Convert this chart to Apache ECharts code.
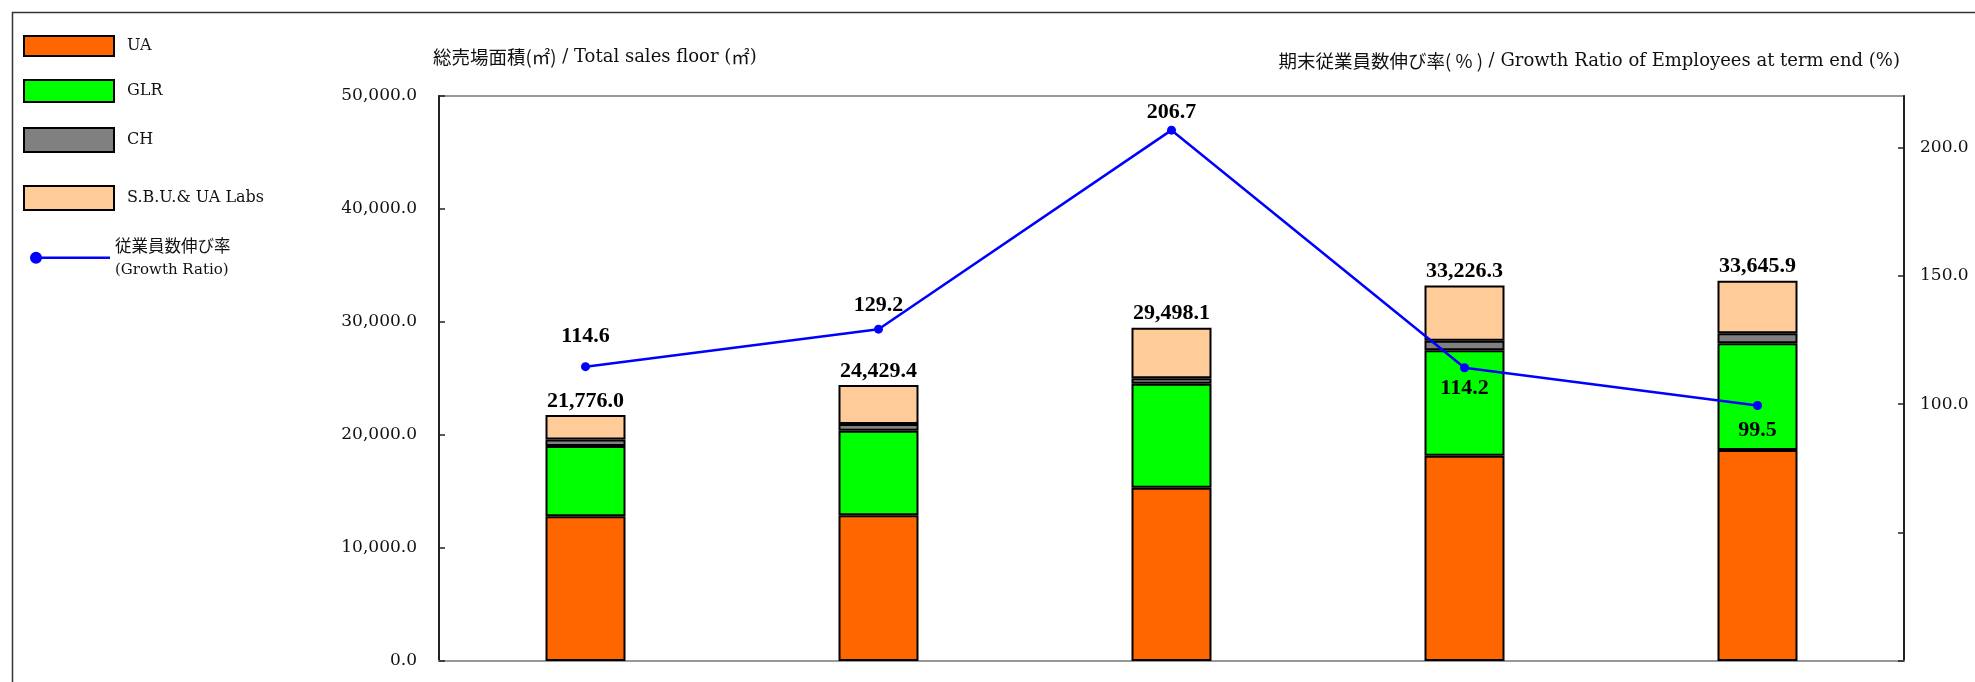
<!DOCTYPE html>
<html>
<head>
<meta charset="utf-8">
<script src="https://cdn.jsdelivr.net/npm/echarts@6/dist/echarts.min.js"></script>
<style>
html,body{margin:0;padding:0;background:#fff;}
#chart{width:1975px;height:682px;}
</style>
</head>
<body>
<div id="chart"></div>
<script>
// ---- data ----
const categories = ['1', '2', '3', '4', '5'];
const uaValues = [12800, 12900, 15340, 18170, 18670];
const glrValues = [6220, 7480, 9200, 9330, 9445];
const chValues = [580, 593, 478, 845, 885];
const sbuValues = [2176.0, 3456.4, 4480.1, 4881.3, 4645.9];
const totalValues = [21776.0, 24429.4, 29498.1, 33226.3, 33645.9];
const growthValues = [114.6, 129.2, 206.7, 114.2, 99.5];
const leftTicks = [0, 10000, 20000, 30000, 40000, 50000];
const rightTickValues = [0, 50, 100, 150, 200];
const rightLabelValues = [100, 150, 200];

const seriesNames = ['UA', 'GLR', 'CH', 'S.B.U.& UA Labs'];
const lineName = '従業員数伸び率';
const lineNameEn = '(Growth Ratio)';
const leftTitleJp = '総売場面積(㎡)';
const leftTitleEn = ' / Total sales floor (';
const leftTitleUnit = '㎡';
const leftTitleEnEnd = ')';
const rightTitleJp = '期末従業員数伸び率( % )';
const rightTitleEn = ' / Growth Ratio of Employees at term end (%)';

// ---- styling / layout (kept separate from data) ----
const barColors = ['#FF6600', '#00FF00', '#808080', '#FFCC99'];
const lineLabelPos = ['top', 'top', 'top', 'bottom', 'bottom'];
const lineLabelDist = [15, 8, 2, 5, 9];
const serif = 'DejaVu Serif';
const boldSerif = 'Liberation Serif';
const jp = 'Noto Sans CJK JP';

const fmt1 = v => Number(v).toLocaleString('en-US', {minimumFractionDigits: 1, maximumFractionDigits: 1});

const chart = echarts.init(document.getElementById('chart'), null, {renderer: 'canvas'});

const barSeries = [uaValues, glrValues, chValues, sbuValues].map((vals, i) => ({
  name: seriesNames[i],
  type: 'bar',
  stack: 'total',
  barWidth: 80,
  data: vals,
  itemStyle: {color: barColors[i], borderColor: '#000', borderWidth: 2},
  label: i === 3 ? {
    show: true,
    position: 'top',
    distance: 3,
    formatter: p => fmt1(totalValues[p.dataIndex]),
    fontFamily: boldSerif,
    fontWeight: 'bold',
    fontSize: 22,
    color: '#000'
  } : {show: false},
  emphasis: {disabled: true},
  z: 2
}));

const lineSeries = {
  name: lineName,
  type: 'line',
  yAxisIndex: 1,
  data: growthValues.map((v, i) => ({
    value: v,
    label: {position: lineLabelPos[i], distance: lineLabelDist[i]}
  })),
  symbol: 'circle',
  symbolSize: 9,
  itemStyle: {color: '#0000FF'},
  lineStyle: {color: '#0000FF', width: 2.5},
  label: {
    show: true,
    formatter: p => fmt1(p.value),
    fontFamily: boldSerif,
    fontWeight: 'bold',
    fontSize: 22,
    color: '#000'
  },
  emphasis: {disabled: true},
  z: 5
};

const legendCommon = {
  padding: 0,
  icon: 'rect',
  selectedMode: false,
  left: 23,
  textStyle: {fontFamily: serif, fontSize: 16, color: '#111', padding: [0, 0, 0, 8]}
};

const option = {
  backgroundColor: '#fff',
  animation: false,
  graphic: [{
    type: 'rect',
    left: 10, top: 10,
    shape: {x: 0, y: 0, width: 2000, height: 720},
    style: {fill: 'none', stroke: '#333', lineWidth: 1.5},
    silent: true
  }],
  legend: [
    Object.assign({}, legendCommon, {data: [seriesNames[0]], top: 35, itemWidth: 90, itemHeight: 20}),
    Object.assign({}, legendCommon, {data: [seriesNames[1]], top: 79, itemWidth: 90, itemHeight: 22}),
    Object.assign({}, legendCommon, {data: [seriesNames[2]], top: 127, itemWidth: 90, itemHeight: 24}),
    Object.assign({}, legendCommon, {data: [seriesNames[3]], top: 185, itemWidth: 90, itemHeight: 24}),
    {
      padding: 0,
      selectedMode: false,
      left: 30,
      top: 237,
      data: [lineName],
      itemWidth: 80,
      itemHeight: 12,
      icon: 'path://M0,6 A6,6 0 1,1 12,6 A6,6 0 1,1 0,6 Z M6,4.75 L80,4.75 L80,7.25 L6,7.25 Z',
      itemStyle: {borderWidth: 0},
      formatter: name => '{a|' + name + '}\n{b|' + lineNameEn + '}',
      textStyle: {
        color: '#111',
        rich: {
          a: {fontFamily: jp, fontSize: 16.5, lineHeight: 25, color: '#111'},
          b: {fontFamily: serif, fontSize: 15, lineHeight: 25, color: '#111'}
        }
      }
    }
  ],
  grid: {
    left: 439, right: 71, top: 96, bottom: 21,
    show: true, borderColor: '#999', borderWidth: 2, backgroundColor: 'transparent'
  },
  xAxis: {
    type: 'category',
    data: categories,
    axisLine: {lineStyle: {color: '#999', width: 2}},
    axisTick: {show: false},
    axisLabel: {show: false},
    splitLine: {show: false}
  },
  yAxis: [{
    type: 'value',
    min: leftTicks[0],
    max: leftTicks[leftTicks.length - 1],
    interval: 10000,
    name: '{jp|' + leftTitleJp + '}{en|' + leftTitleEn + '}{u|' + leftTitleUnit + '}{en|' + leftTitleEnEnd + '}',
    nameLocation: 'end',
    nameGap: 39,
    nameTextStyle: {
      align: 'left', verticalAlign: 'middle', padding: [0, 0, 0, -6],
      rich: {
        jp: {fontFamily: jp, fontSize: 18.5, color: '#111'},
        u: {fontFamily: jp, fontSize: 18.5, color: '#111'},
        en: {fontFamily: serif, fontSize: 18, color: '#111'}
      }
    },
    axisLine: {show: true, lineStyle: {color: '#222', width: 2}},
    axisTick: {show: true, inside: true, length: 6, lineStyle: {color: '#222', width: 1.5}},
    axisLabel: {
      formatter: v => fmt1(v), margin: 22,
      fontFamily: serif, fontSize: 17, color: '#111'
    },
    splitLine: {show: false}
  }, {
    type: 'value',
    min: 0,
    max: 220,
    interval: 50,
    position: 'right',
    name: '{jp|' + rightTitleJp + '}{en|' + rightTitleEn + '}',
    nameLocation: 'end',
    nameGap: 35,
    nameTextStyle: {
      align: 'right', verticalAlign: 'middle', padding: [0, 4, 0, 0],
      rich: {
        jp: {fontFamily: jp, fontSize: 18.5, color: '#111'},
        en: {fontFamily: serif, fontSize: 18, color: '#111'}
      }
    },
    axisLine: {show: true, lineStyle: {color: '#222', width: 2}},
    axisTick: {show: true, inside: true, length: 6, customValues: rightTickValues, lineStyle: {color: '#222', width: 1.5}},
    axisLabel: {
      customValues: rightLabelValues,
      formatter: v => fmt1(v), margin: 16,
      fontFamily: serif, fontSize: 17, color: '#111'
    },
    splitLine: {show: false}
  }],
  series: barSeries.concat([lineSeries])
};

chart.setOption(option);
</script>
</body>
</html>
